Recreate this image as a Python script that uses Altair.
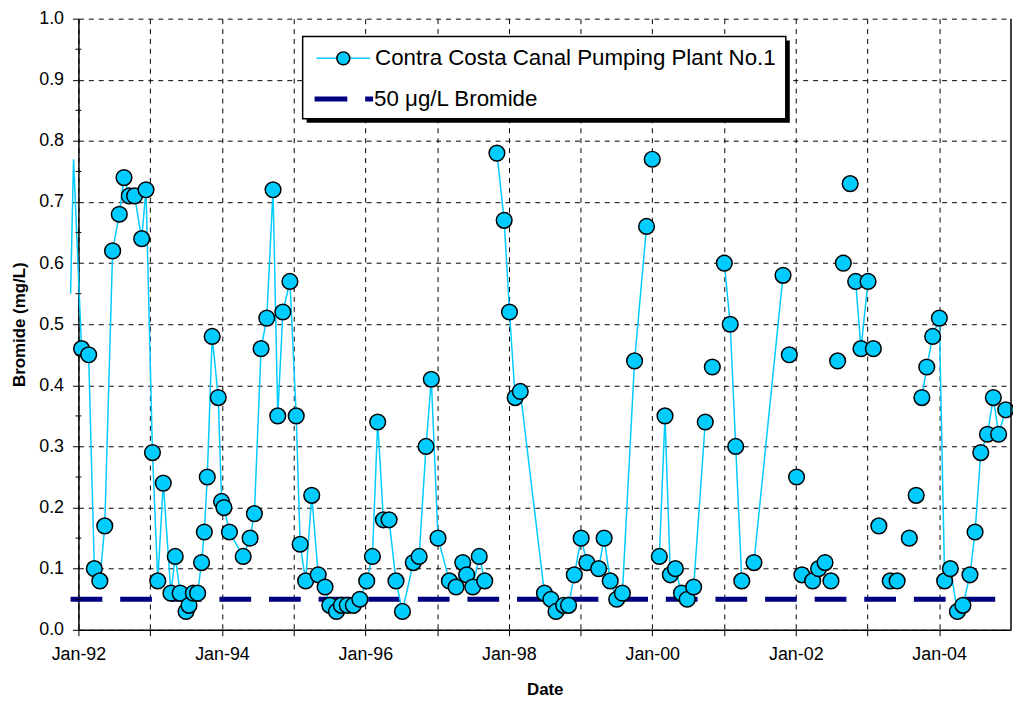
import altair as alt
import pandas as pd

# ---------------- data (None = blank row -> break in the line) ----------------
DATES = [
    "1991-11-22", "1991-12-07",
    "1992-01-17", "1992-02-22", "1992-03-22", "1992-04-19", "1992-05-14", "1992-06-23",
    "1992-07-27", "1992-08-20", "1992-09-16", "1992-10-13", "1992-11-18", "1992-12-10",
    "1993-01-12", "1993-02-08", "1993-03-08", "1993-04-16", "1993-05-08", "1993-06-02",
    "1993-07-02", "1993-07-17", "1993-08-08", "1993-08-30", "1993-09-19", "1993-10-03",
    "1993-10-18", "1993-11-12", "1993-12-13", "1993-12-30",
    "1994-01-11", "1994-02-08", "1994-04-19", "1994-05-24", "1994-06-15", "1994-07-19",
    "1994-08-17", "1994-09-18", "1994-10-12", "1994-11-07", "1994-12-13",
    "1995-01-14", "1995-02-03", "1995-03-03", "1995-04-03", "1995-05-06", "1995-06-10",
    "1995-07-04", "1995-08-07", "1995-09-01", "1995-10-01", "1995-11-01", "1995-12-04",
    "1996-01-08", "1996-02-06", "1996-03-04", "1996-04-02", "1996-05-01", "1996-06-05",
    "1996-07-08", "1996-09-01", "1996-10-01", "1996-11-05", "1996-12-02",
    "1997-01-05", "1997-03-04", "1997-04-07", "1997-05-11", "1997-05-31", "1997-07-01",
    "1997-08-03", "1997-08-31", None,
    "1997-11-01", "1997-12-08", "1998-01-04", "1998-02-02", "1998-02-28", "1998-07-01",
    "1998-08-03", "1998-08-29", "1998-10-07", "1998-11-01", "1998-11-30",
    "1999-01-04", "1999-02-02", "1999-04-03", "1999-05-01", "1999-06-01", "1999-07-04",
    "1999-08-02", "1999-10-03", "1999-12-03", None,
    "2000-01-01", None,
    "2000-02-06", "2000-03-06", "2000-04-02", "2000-04-28", "2000-05-29", "2000-06-27",
    "2000-07-30", "2000-09-27", None,
    "2000-11-02", None,
    "2001-01-02", "2001-02-01", "2001-03-01", "2001-04-01", None,
    "2001-06-02", "2001-10-28", None,
    "2001-11-29", None, "2002-01-05", None, "2002-02-01", None, "2002-03-28", None,
    "2002-04-27", None, "2002-05-30", None, "2002-06-29", None, "2002-08-02", None,
    "2002-08-31", None, "2002-10-05", None,
    "2002-11-02", "2002-11-29", "2003-01-04", None,
    "2003-01-31", None, "2003-02-28", None, "2003-04-27", None, "2003-06-01", None,
    "2003-08-02", None, "2003-09-06", None,
    "2003-10-05", "2003-10-30", "2003-11-29", "2004-01-02", "2004-01-29", "2004-02-27",
    "2004-04-03", "2004-05-01", "2004-06-06", "2004-07-02", "2004-07-31", "2004-09-03",
    "2004-10-03", "2004-10-30", "2004-12-05",
]

VALUES = [
    0.55, 0.77,
    0.46, 0.45, 0.10, 0.08, 0.17, 0.62,
    0.68, 0.74, 0.71, 0.71, 0.64, 0.72,
    0.29, 0.08, 0.24, 0.06, 0.12, 0.06,
    0.03, 0.04, 0.06, 0.06, 0.11, 0.16,
    0.25, 0.48, 0.38, 0.21,
    0.20, 0.16, 0.12, 0.15, 0.19, 0.46,
    0.51, 0.72, 0.35, 0.52, 0.57,
    0.35, 0.14, 0.08, 0.22, 0.09, 0.07,
    0.04, 0.03, 0.04, 0.04, 0.04, 0.05,
    0.08, 0.12, 0.34, 0.18, 0.18, 0.08,
    0.03, 0.11, 0.12, 0.30, 0.41,
    0.15, 0.08, 0.07, 0.11, 0.09, 0.07,
    0.12, 0.08, None,
    0.78, 0.67, 0.52, 0.38, 0.39, 0.06,
    0.05, 0.03, 0.04, 0.04, 0.09,
    0.15, 0.11, 0.10, 0.15, 0.08, 0.05,
    0.06, 0.44, 0.66, None,
    0.77, None,
    0.12, 0.35, 0.09, 0.10, 0.06, 0.05,
    0.07, 0.34, None,
    0.43, None,
    0.60, 0.50, 0.30, 0.08, None,
    0.11, 0.58, None,
    0.45, None, 0.25, None, 0.09, None, 0.08, None,
    0.10, None, 0.11, None, 0.08, None, 0.44, None,
    0.60, None, 0.73, None,
    0.57, 0.46, 0.57, None,
    0.46, None, 0.17, None, 0.08, None, 0.08, None,
    0.15, None, 0.22, None,
    0.38, 0.43, 0.48, 0.51, 0.08, 0.10,
    0.03, 0.04, 0.09, 0.16, 0.29, 0.32,
    0.38, 0.32, 0.36,
]

BROMIDE_LIMIT = [0.05]
Y_TICKS = [0.0, 0.1, 0.2, 0.3, 0.4, 0.5, 0.6, 0.7, 0.8, 0.9, 1.0]
Y_MINOR = [0.05, 0.15, 0.25, 0.35, 0.45, 0.55, 0.65, 0.75, 0.85, 0.95]
X_YEARS = list(range(1992, 2005))
LEGEND_LABELS = ["Contra Costa Canal Pumping Plant No.1", "50 \u03bcg/L Bromide"]

# ---------------- frames ----------------
df = pd.DataFrame({"date": DATES, "value": VALUES})
df["seg"] = df["value"].isna().cumsum()
df = df.dropna().reset_index(drop=True)
pts = df[df["date"] >= "1992-01-01"].reset_index(drop=True)
limit_df = pd.DataFrame({"limit": BROMIDE_LIMIT, "start": [df["date"].min()]})
minor_df = pd.DataFrame({"v": Y_MINOR})
one = pd.DataFrame({"k": [0]})

W, H = 940, 616
FONT = "Liberation Sans"
CYAN = "#00CCFF"
NAVY = "#000080"

x_scale = alt.Scale(domain=[alt.DateTime(year=1992, month=1, date=1),
                            alt.DateTime(year=2005, month=1, date=1)])
y_scale = alt.Scale(domain=[0, 1], nice=False)

x_axis = alt.Axis(
    values=[alt.DateTime(year=y, month=1, date=1) for y in X_YEARS],
    labelExpr="year(datum.value) % 2 == 0 ? timeFormat(datum.value, '%b-%y') : ''",
    grid=True, gridDash=[5, 5], gridColor="black", gridWidth=1,
    tickSize=6, tickColor="black", domainColor="black", domainWidth=1.5,
    labelFont=FONT, labelFontSize=18, labelColor="black", labelPadding=10,
    labelFlush=False, labelOverlap=False,
    titleFont=FONT, titleFontSize=17, titleFontWeight="bold", titleColor="black",
    titlePadding=18,
)
y_axis = alt.Axis(
    values=Y_TICKS, format=".1f",
    grid=True, gridDash=[5, 5], gridColor="black", gridWidth=1,
    tickSize=6, tickColor="black", domainColor="black", domainWidth=1.5,
    labelFont=FONT, labelFontSize=18, labelColor="black", labelPadding=9,
    titleFont=FONT, titleFontSize=17, titleFontWeight="bold", titleColor="black",
    titlePadding=10,
)

X = alt.X("date:T", scale=x_scale, axis=x_axis, title="Date")
Y = alt.Y("value:Q", scale=y_scale, axis=y_axis, title="Bromide (mg/L)")

limit_line = alt.Chart(limit_df).mark_rule(
    color=NAVY, strokeWidth=5, strokeDash=[32, 18]
).encode(
    x=alt.X("start:T", scale=x_scale, axis=x_axis, title="Date"),
    x2=alt.value(W),
    y=alt.Y("limit:Q", scale=y_scale, axis=y_axis, title="Bromide (mg/L)"),
)

line = alt.Chart(df).mark_line(color=CYAN, strokeWidth=1.5).encode(
    x=X, y=Y, detail="seg:N"
)

points = alt.Chart(pts).mark_circle(
    color=CYAN, opacity=1, size=250, stroke="black", strokeWidth=1.5
).encode(x=X, y=Y)

minor = alt.Chart(minor_df).mark_rule(color="black", strokeWidth=1).encode(
    y=alt.Y("v:Q", scale=y_scale, axis=y_axis, title="Bromide (mg/L)"),
    x=alt.value(-3), x2=alt.value(3),
)

right_border = alt.Chart(one).mark_rule(color="black", strokeWidth=1.5).encode(
    x=alt.value(W), y=alt.value(0), y2=alt.value(H)
)

# ---------------- legend ----------------
LX0, LX1, LY0, LY1 = 226, 713, 18, 101
shadow = alt.Chart(one).mark_rect(color="black").encode(
    x=alt.value(LX0 + 4), x2=alt.value(LX1 + 4), y=alt.value(LY0 + 4), y2=alt.value(LY1 + 4)
)
box = alt.Chart(one).mark_rect(fill="white", stroke="black", strokeWidth=1.5).encode(
    x=alt.value(LX0), x2=alt.value(LX1), y=alt.value(LY0), y2=alt.value(LY1)
)
leg_line = alt.Chart(one).mark_rule(color=CYAN, strokeWidth=1.5).encode(
    x=alt.value(240), x2=alt.value(294), y=alt.value(40)
)
leg_dot = alt.Chart(one).mark_circle(
    color=CYAN, opacity=1, size=170, stroke="black", strokeWidth=1.5
).encode(x=alt.value(267), y=alt.value(40))
leg_dash = alt.Chart(one).mark_rule(color=NAVY, strokeWidth=5, strokeDash=[33, 18]).encode(
    x=alt.value(238), x2=alt.value(297), y=alt.value(81)
)
leg_t1 = alt.Chart(one).mark_text(
    text=LEGEND_LABELS[0], align="left", baseline="alphabetic",
    font=FONT, fontSize=22.5, color="black"
).encode(x=alt.value(299), y=alt.value(47))
leg_t2 = alt.Chart(one).mark_text(
    text=LEGEND_LABELS[1], align="left", baseline="alphabetic",
    font=FONT, fontSize=22.5, color="black"
).encode(x=alt.value(298), y=alt.value(88))

chart = alt.layer(
    limit_line, line, points, minor, right_border,
    shadow, box, leg_line, leg_dot, leg_dash, leg_t1, leg_t2,
).properties(
    width=W, height=H,
    autosize=alt.AutoSizeParams(type="none"),
    padding={"left": 71, "top": 8, "right": 2, "bottom": 66},
    background="white",
).configure_view(strokeWidth=0)

chart.save("out.html", embed_options={"renderer": "svg", "actions": False})
